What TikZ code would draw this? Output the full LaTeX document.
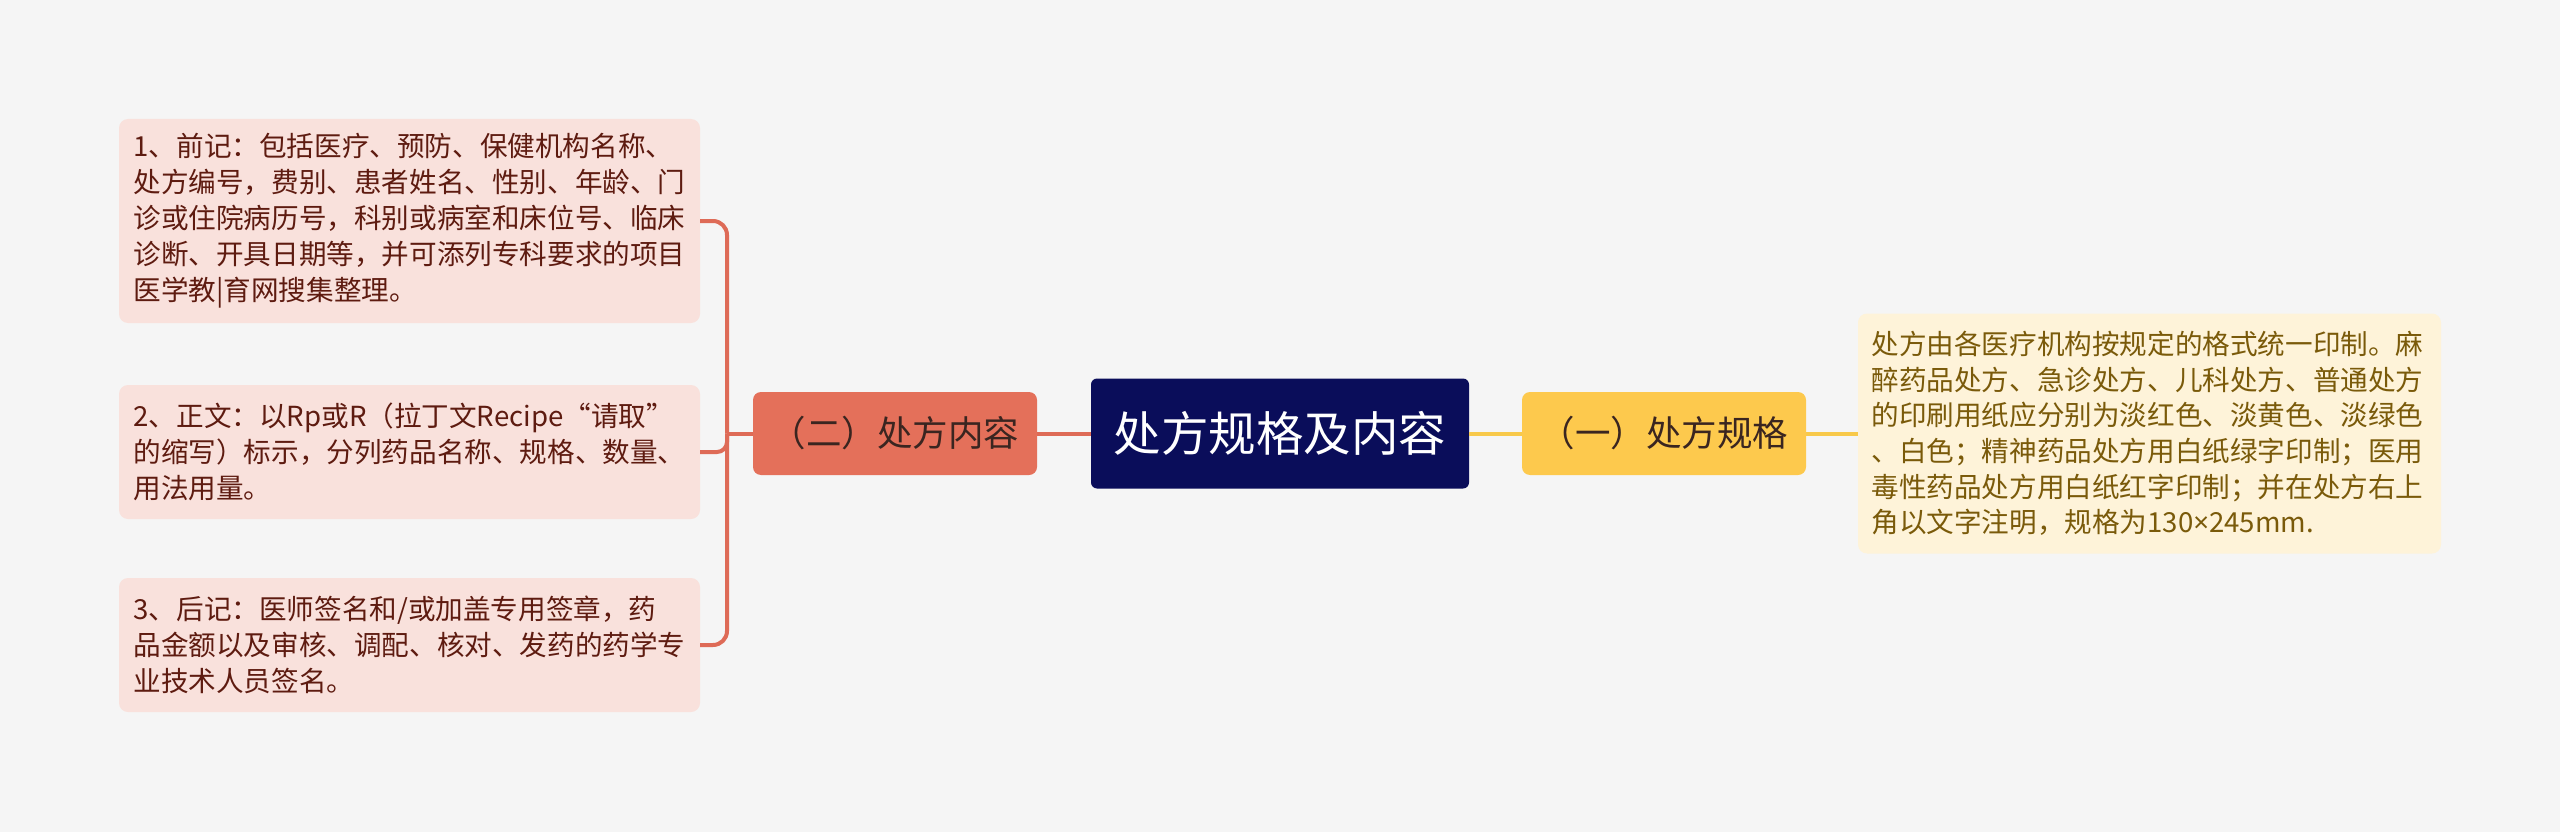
\documentclass[tikz,border=0pt]{standalone}
\usepackage{fontspec}
\newfontfamily\cjk{Noto Sans CJK SC}
\newfontfamily\latinfont{Noto Sans}
\definecolor{bgc}{HTML}{F5F5F5}
\definecolor{rootfill}{HTML}{0A0D5A}
\definecolor{redfill}{HTML}{E4705A}
\definecolor{redline}{HTML}{DE6B57}
\definecolor{pinkfill}{HTML}{F9E1DC}
\definecolor{pinktext}{HTML}{5E1B10}
\definecolor{yelfill}{HTML}{FDC94D}
\definecolor{yelline}{HTML}{F8C94A}
\definecolor{creamfill}{HTML}{FEF3D9}
\definecolor{creamtext}{HTML}{7A5A0A}
\definecolor{branchtext}{HTML}{3A2520}
\begin{document}
\begin{tikzpicture}[x=1pt,y=-1pt,
  rootbox/.style={fill=rootfill, rounded corners=6pt, minimum width=378pt, minimum height=110pt, inner sep=0pt, text=white, font=\cjk\fontsize{47.5}{52}\selectfont},
  redbranch/.style={fill=redfill, rounded corners=8pt, minimum width=284pt, minimum height=83pt, inner sep=0pt, text=branchtext, font=\cjk\fontsize{35.5}{40}\selectfont},
  yelbranch/.style={fill=yelfill, rounded corners=8pt, minimum width=284pt, minimum height=83pt, inner sep=0pt, text=branchtext, font=\cjk\fontsize{35.5}{40}\selectfont},
  pinkleaf/.style={fill=pinkfill, rounded corners=9pt, minimum width=581pt, inner xsep=0pt, inner ysep=0pt, text width=552pt, align=left, text=pinktext, font=\cjk\fontsize{27.6}{36}\selectfont},
  creamleaf/.style={fill=creamfill, rounded corners=9pt, minimum width=583pt, minimum height=240pt, inner xsep=0pt, inner ysep=0pt, text width=556pt, align=left, text=creamtext, font=\cjk\fontsize{27.6}{35.6}\selectfont},
  redconn/.style={draw=redline, line width=4pt},
  yelconn/.style={draw=yelline, line width=4pt}
]
\fill[bgc] (0,0) rectangle (2560,832);
\useasboundingbox (0,0) rectangle (2560,832);

\node[rootbox] (root) at (1280,433.5) {处方规格及内容};
\node[redbranch] (lb) at (895,433.5) {（二）处方内容};
\node[yelbranch] (rb) at (1664,433.5) {（一）处方规格};

\node[pinkleaf, minimum height=204pt] (l1) at (409.5,221) {1、前记：包括医疗、预防、保健机构名称、\\处方编号，费别、患者姓名、性别、年龄、门\\诊或住院病历号，科别或病室和床位号、临床\\诊断、开具日期等，并可添列专科要求的项目\\医学教|育网搜集整理。};
\node[pinkleaf, minimum height=134pt] (l2) at (409.5,452) {2、正文：以Rp或R（拉丁文Recipe“请取”\\的缩写）标示，分列药品名称、规格、数量、\\用法用量。};
\node[pinkleaf, minimum height=134pt] (l3) at (409.5,645) {3、后记：医师签名和/或加盖专用签章，药\\品金额以及审核、调配、核对、发药的药学专\\业技术人员签名。};

\node[creamleaf] (r1) at (2149.5,433.5) {处方由各医疗机构按规定的格式统一印制。麻\\醉药品处方、急诊处方、儿科处方、普通处方\\的印刷用纸应分别为淡红色、淡黄色、淡绿色\\、白色；精神药品处方用白纸绿字印制；医用\\毒性药品处方用白纸红字印制；并在处方右上\\角以文字注明，规格为130{\latinfont ×}245mm.};

\coordinate (lj) at (727,433.5);
\draw[redconn] (root.west) -- (lb.east);
\draw[redconn] (lb.west) -- (lj);
\draw[redconn, rounded corners=14pt] (lj) |- (l1.east);
\draw[redconn, rounded corners=10pt] (lj) |- (l2.east);
\draw[redconn, rounded corners=14pt] (lj) |- (l3.east);

\draw[yelconn] (root.east) -- (rb.west);
\draw[yelconn] (rb.east) -- (r1.west);
\end{tikzpicture}
\end{document}
